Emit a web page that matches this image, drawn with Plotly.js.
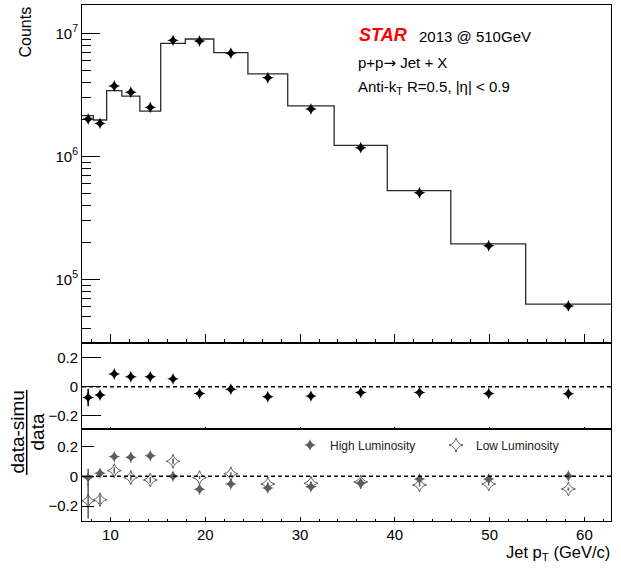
<!DOCTYPE html>
<html><head><meta charset="utf-8">
<script src="https://cdn.plot.ly/plotly-3.0.1.min.js"></script>
<style>html,body{margin:0;padding:0;background:#fff}#chart{width:621px;height:570px}</style>
</head><body><div id="chart"></div>
<script>
// ---- data ----
const binEdges = [7.0, 8.2, 9.6, 11.2, 13.1, 15.3, 17.9, 20.9, 24.5, 28.7, 33.6, 39.2, 45.9, 53.8, 62.8];
const simuCounts = [2.15e6, 1.98e6, 3.43e6, 3.10e6, 2.34e6, 8.32e6, 9.02e6, 6.98e6, 4.69e6, 2.58e6, 1.23e6, 5.27e5, 1.95e5, 6.3e4];
const jetPt = [7.65, 8.9, 10.4, 12.15, 14.2, 16.6, 19.4, 22.7, 26.6, 31.15, 36.4, 42.6, 49.9, 58.3];
const dataCounts = [2.02e6, 1.86e6, 3.74e6, 3.33e6, 2.51e6, 8.8e6, 8.69e6, 6.9e6, 4.37e6, 2.43e6, 1.18e6, 5.08e5, 1.88e5, 6.1e4];
const ratioAll = [-0.074, -0.057, 0.088, 0.069, 0.069, 0.055, -0.046, -0.016, -0.069, -0.064, -0.039, -0.039, -0.046, -0.048];
const ratioAllErr = [0.06, 0.025, 0.015, 0.015, 0.015, 0.015, 0.01, 0.01, 0.01, 0.01, 0.01, 0.01, 0.01, 0.01];
const ratioHigh = [-0.009, 0.02, 0.132, 0.128, 0.138, 0.0, -0.087, -0.052, -0.079, -0.07, -0.045, -0.018, -0.018, 0.002];
const ratioHighErr = [0.06, 0.02, 0.01, 0.01, 0.01, 0.01, 0.01, 0.01, 0.01, 0.01, 0.01, 0.01, 0.01, 0.01];
const ratioLow = [-0.164, -0.157, 0.038, -0.009, -0.025, 0.1, -0.009, 0.017, -0.052, -0.047, -0.038, -0.058, -0.052, -0.085];
const ratioLowErr = [0.12, 0.03, 0.02, 0.02, 0.02, 0.02, 0.01, 0.01, 0.01, 0.01, 0.01, 0.01, 0.01, 0.01];
const countTicks = [1e5, 1e6, 1e7];
const countTickText = ['10<sup>5</sup>', '10<sup>6</sup>', '10<sup>7</sup>'];
const ratioTicks = [-0.2, 0, 0.2];
const ratioTickText = ['\u22120.2', '0', '0.2'];

// ---- geometry helpers ----
const L = 82, R = 611, T = 5, B = 521;
const X = px => (px - L) / (R - L);
const Y = py => (B - py) / (B - T);
const FONT = 'Liberation Sans, Arial, Helvetica, sans-serif';
const gray = '#5c5c5c';

const traces = [
  {x: binEdges, y: simuCounts.concat([simuCounts[simuCounts.length - 1]]), xaxis: 'x', yaxis: 'y',
   type: 'scatter', mode: 'lines', line: {shape: 'hv', color: '#2a2a2a', width: 1.3}, showlegend: false, hoverinfo: 'skip'},
  {x: jetPt, y: dataCounts, xaxis: 'x', yaxis: 'y', type: 'scatter', mode: 'markers',
   marker: {symbol: 'star-diamond', size: 8.5, color: '#000'}, showlegend: false},
  {x: jetPt, y: ratioAll, xaxis: 'x2', yaxis: 'y2', type: 'scatter', mode: 'markers',
   marker: {symbol: 'star-diamond', size: 8.5, color: '#000'},
   error_y: {type: 'data', array: ratioAllErr, visible: true, width: 0, thickness: 1.5, color: '#000'}, showlegend: false},
  {x: jetPt, y: ratioHigh, xaxis: 'x3', yaxis: 'y3', type: 'scatter', mode: 'markers', name: 'High Luminosity',
   marker: {symbol: 'star-diamond', size: 8.5, color: gray},
   error_y: {type: 'data', array: ratioHighErr, visible: true, width: 0, thickness: 1.5, color: gray}, legend: 'legend'},
  {x: jetPt, y: ratioLow, xaxis: 'x3', yaxis: 'y3', type: 'scatter', mode: 'markers', name: 'Low Luminosity',
   marker: {symbol: 'star-diamond-open', size: 10, color: gray, line: {width: 1, color: gray}},
   error_y: {type: 'data', array: ratioLowErr, visible: true, width: 0, thickness: 1.5, color: gray}, legend: 'legend2'}
];

const xBase = {range: [7.0, 62.8], showgrid: false, zeroline: false, showline: true, mirror: true,
  linecolor: '#000', linewidth: 1, ticks: 'inside', tickcolor: '#000', dtick: 10, tick0: 0};
const yBase = {showgrid: false, zeroline: false, showline: true, mirror: true, linecolor: '#000', linewidth: 1,
  ticks: 'inside', tickcolor: '#000', tickfont: {family: FONT, size: 15, color: '#000'}};

const d1 = Y(343.3), d2 = Y(429.3);

const layout = {
  width: 621, height: 570, margin: {l: L, r: 621 - R, t: T, b: 570 - B},
  paper_bgcolor: '#fff', plot_bgcolor: '#fff', font: {family: FONT, color: '#000'},
  xaxis: Object.assign({}, xBase, {anchor: 'y', showticklabels: false, ticklen: 9,
    minor: {dtick: 2, ticklen: 4.5, ticks: 'inside', tickcolor: '#000'}}),
  xaxis2: Object.assign({}, xBase, {anchor: 'y2', matches: 'x', showticklabels: false, ticklen: 2,
    minor: {dtick: 2, ticklen: 1, ticks: 'inside', tickcolor: '#000'}}),
  xaxis3: Object.assign({}, xBase, {anchor: 'y3', matches: 'x', showticklabels: true, ticklen: 4,
    tickfont: {family: FONT, size: 15, color: '#000'},
    minor: {dtick: 2, ticklen: 2, ticks: 'inside', tickcolor: '#000'}}),
  yaxis: Object.assign({}, yBase, {anchor: 'x', type: 'log', domain: [d1, 1], range: [4.4813, 7.2317],
    tickmode: 'array', tickvals: countTicks, ticktext: countTickText, ticklen: 18,
    minor: {dtick: 'D1', ticklen: 9, ticks: 'inside', tickcolor: '#000'}}),
  yaxis2: Object.assign({}, yBase, {anchor: 'x2', domain: [d2, d1], range: [-0.293, 0.3],
    tickmode: 'array', tickvals: ratioTicks, ticktext: ratioTickText, ticklen: 19}),
  yaxis3: Object.assign({}, yBase, {anchor: 'x3', domain: [0, d2], range: [-0.3, 0.315],
    tickmode: 'array', tickvals: ratioTicks, ticktext: ratioTickText, ticklen: 12}),
  legend: {x: X(290), y: Y(445), xanchor: 'left', yanchor: 'middle', bgcolor: 'rgba(0,0,0,0)', borderwidth: 0,
    font: {family: FONT, size: 12, color: '#222'}},
  legend2: {x: X(436), y: Y(445), xanchor: 'left', yanchor: 'middle', bgcolor: 'rgba(0,0,0,0)', borderwidth: 0,
    font: {family: FONT, size: 12, color: '#222'}},
  shapes: [
    {type: 'line', xref: 'paper', x0: 0, x1: 1, yref: 'y2', y0: 0, y1: 0, line: {color: '#000', width: 1.5, dash: '4px,3px'}},
    {type: 'line', xref: 'paper', x0: 0, x1: 1, yref: 'y3', y0: 0, y1: 0, line: {color: '#000', width: 1.5, dash: '4px,3px'}},
    {type: 'line', xref: 'paper', yref: 'paper', x0: X(26.7), x1: X(26.7), y0: Y(390), y1: Y(475), line: {color: '#000', width: 1.5}}
  ],
  annotations: [
    {xref: 'paper', yref: 'paper', x: X(357), y: Y(35), xanchor: 'left', yanchor: 'middle', showarrow: false,
     text: '<b><i>STAR</i></b>', font: {family: FONT, size: 18, color: '#ff0000'}},
    {xref: 'paper', yref: 'paper', x: X(417), y: Y(36), xanchor: 'left', yanchor: 'middle', showarrow: false,
     text: '2013 @ 510GeV', font: {family: FONT, size: 15, color: '#000'}},
    {xref: 'paper', yref: 'paper', x: X(356), y: Y(63.5), xanchor: 'left', yanchor: 'middle', showarrow: false,
     text: 'p+p<span style="font-family:DejaVu Sans">\u2192</span> Jet + X', font: {family: FONT, size: 15, color: '#000'}},
    {xref: 'paper', yref: 'paper', x: X(356), y: Y(88), xanchor: 'left', yanchor: 'middle', showarrow: false,
     text: 'Anti-k<sub>T</sub> R=0.5, |\u03b7| &lt; 0.9', font: {family: FONT, size: 15, color: '#000'}},
    {xref: 'paper', yref: 'paper', x: X(25), y: Y(5), xanchor: 'center', yanchor: 'top', showarrow: false,
     textangle: -90, text: 'Counts', font: {family: FONT, size: 16, color: '#000'}},
    {xref: 'paper', yref: 'paper', x: X(17), y: Y(432.5), xanchor: 'center', yanchor: 'middle', showarrow: false,
     textangle: -90, text: 'data-simu', font: {family: FONT, size: 19, color: '#000'}},
    {xref: 'paper', yref: 'paper', x: X(37), y: Y(432.5), xanchor: 'center', yanchor: 'middle', showarrow: false,
     textangle: -90, text: 'data', font: {family: FONT, size: 19, color: '#000'}},
    {xref: 'paper', yref: 'paper', x: X(612), y: Y(553), xanchor: 'right', yanchor: 'middle', showarrow: false,
     text: 'Jet p<sub>T</sub> (GeV/c)', font: {family: FONT, size: 16.5, color: '#000'}}
  ]
};

Plotly.newPlot('chart', traces, layout, {staticPlot: true, displayModeBar: false});
</script>
</body></html>
